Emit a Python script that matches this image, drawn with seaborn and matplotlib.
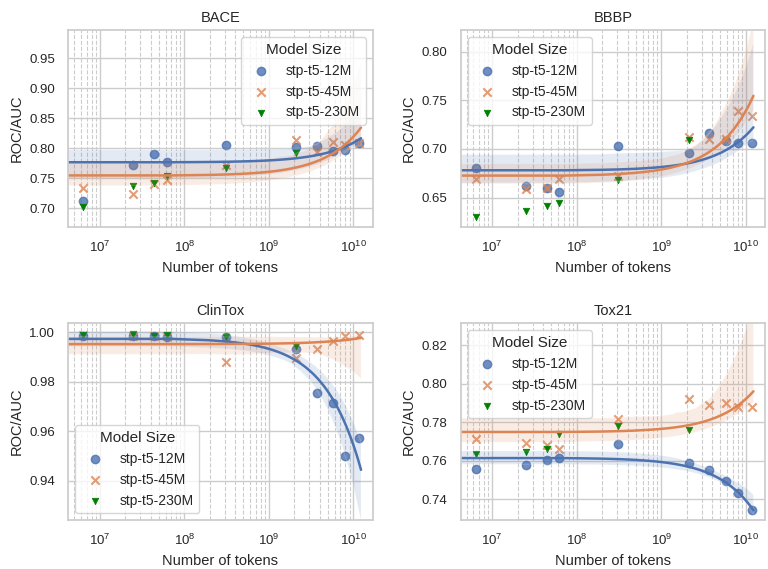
import numpy as np
import matplotlib
matplotlib.use("Agg")
import matplotlib.pyplot as plt
import seaborn as sns

# token counts seen by each checkpoint (230M only has the first six)
tokens = [6.4e6, 2.5e7, 4.4e7, 6.2e7, 3.1e8, 2.1e9, 3.7e9, 5.8e9, 8.0e9, 1.17e10]
tokens_230m = tokens[:6]

datasets = ["BACE", "BBBP", "ClinTox", "Tox21"]
models = ["stp-t5-12M", "stp-t5-45M", "stp-t5-230M"]

auc_12m = {
    "BACE": [0.713, 0.773, 0.790, 0.778, 0.806, 0.803, 0.804, 0.796, 0.798, 0.809],
    "BBBP": [0.6805, 0.662, 0.660, 0.656, 0.703, 0.696, 0.716, 0.708, 0.706, 0.706],
    "ClinTox": [0.9985, 0.9986, 0.9984, 0.9982, 0.998, 0.9932, 0.9756, 0.9716, 0.950, 0.9575],
    "Tox21": [0.7557, 0.7577, 0.7603, 0.7616, 0.7687, 0.7586, 0.755, 0.7496, 0.743, 0.7346],
}
auc_45m = {
    "BACE": [0.734, 0.724, 0.741, 0.747, 0.772, 0.814, 0.794, 0.810, 0.806, 0.809],
    "BBBP": [0.669, 0.659, 0.660, 0.669, 0.6725, 0.7125, 0.7105, 0.7105, 0.7385, 0.7335],
    "ClinTox": [0.9988, 0.9986, 0.9986, 0.9986, 0.9882, 0.9896, 0.9932, 0.9966, 0.9984, 0.9988],
    "Tox21": [0.7715, 0.769, 0.768, 0.766, 0.7816, 0.792, 0.7889, 0.7898, 0.788, 0.788],
}
auc_230m = {
    "BACE": [0.702, 0.737, 0.743, 0.754, 0.768, 0.793],
    "BBBP": [0.630, 0.636, 0.641, 0.645, 0.668, 0.709],
    "ClinTox": [0.9990, 0.9995, 0.9985, 0.9990, 0.9980, 0.9945],
    "Tox21": [0.7635, 0.7643, 0.7659, 0.774, 0.778, 0.7757],
}

ylims = {
    "BACE": (0.669, 0.997),
    "BBBP": (0.620, 0.822),
    "ClinTox": (0.9242, 1.0037),
    "Tox21": (0.7292, 0.8313),
}
legend_loc = {"BACE": "upper right", "BBBP": "upper left",
              "ClinTox": "lower left", "Tox21": "upper left"}

sns.set_theme(style="whitegrid")
plt.rcParams["font.family"] = ["Liberation Sans", "DejaVu Sans"]
plt.rcParams["xtick.labelsize"] = 9.5
plt.rcParams["ytick.labelsize"] = 9.5

pal = sns.color_palette("deep")
blue, orange = pal[0], pal[1]

fig, axes = plt.subplots(2, 2, figsize=(7.68, 5.69), dpi=100)
fig.subplots_adjust(left=0.089, right=0.996, top=0.947, bottom=0.086,
                    wspace=0.29, hspace=0.49)

for ax, name in zip(axes.flat, datasets):
    ax.scatter(tokens, auc_12m[name], marker="o", s=36, color=blue,
               alpha=0.8, linewidths=1, label=models[0])
    ax.scatter(tokens, auc_45m[name], marker="x", s=36, color=orange,
               alpha=0.8, linewidths=1.5, label=models[1])
    ax.scatter(tokens_230m, auc_230m[name], marker="v", s=22, color="green",
               linewidths=0.5, label=models[2])
    # linear fits, drawn over the whole axis before switching to log x
    for vals, c in ((auc_12m, blue), (auc_45m, orange)):
        sns.regplot(x=np.array(tokens), y=np.array(vals[name]), ax=ax,
                    scatter=False, truncate=False, color=c, seed=0,
                    line_kws={"lw": 1.8})
    ax.set_xscale("log")
    ax.set_xlim(4.25e6, 1.68e10)
    ax.set_ylim(*ylims[name])
    ax.grid(True, which="minor", axis="x", linestyle="--", color=".8", lw=0.8)
    ax.set_title(name, fontsize=10.5)
    ax.set_xlabel("Number of tokens", fontsize=10.5)
    ax.set_ylabel("ROC/AUC", fontsize=10.5)
    ax.legend(title="Model Size", loc=legend_loc[name], fontsize=10,
              title_fontsize=11)

plt.savefig("out.png", dpi=100)
